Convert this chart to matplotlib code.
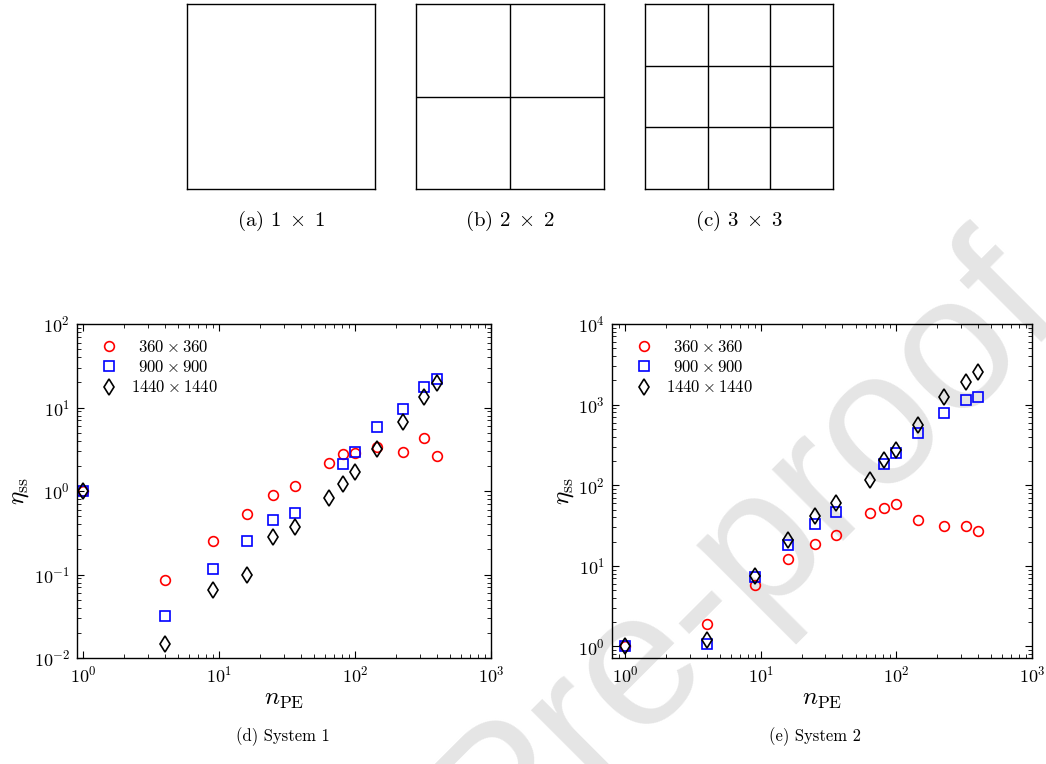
import numpy as np
import matplotlib
matplotlib.use("Agg")
import matplotlib.pyplot as plt

plt.rcParams['mathtext.fontset'] = 'cm'
plt.rcParams['font.family'] = 'serif'
plt.rcParams['font.serif'] = ['cmr10', 'DejaVu Serif']
plt.rcParams['axes.formatter.use_mathtext'] = True
plt.rcParams['axes.unicode_minus'] = False

# ---- data ----
grid_sizes = [1, 2, 3]
grid_captions = [r'(a) $1\;\times\;1$', r'(b) $2\;\times\;2$', r'(c) $3\;\times\;3$']

n_pe = [1, 4, 9, 16, 25, 36, 64, 81, 100, 144, 225, 324, 400]
series_labels = [r'$\ \,360\times360$', r'$\ \,900\times900$', r'$1440\times1440$']

sys1_360 = [1.0, 0.085, 0.254, 0.53, 0.895, 1.14, 2.17, 2.75, 2.86, 3.37, 2.96, 4.33, 2.65]
sys1_900 = [1.0, 0.032, 0.117, 0.254, 0.445, 0.545, np.nan, 2.09, 2.91, 5.92, 9.7, 17.7, 22.1]
sys1_1440 = [1.0, 0.0149, 0.065, 0.10, 0.278, 0.373, 0.83, 1.2, 1.71, 3.22, 6.73, 13.4, 19.8]

sys2_360 = [1.0, 1.88, 5.72, 12.0, 18.9, 24.4, 45.3, 51.8, 58.0, 37.1, 31.5, 31.5, 27.1]
sys2_900 = [1.0, 1.06, 7.2, 18.0, 32.8, 47.1, np.nan, 182, 252, 447, 792, 1127, 1251]
sys2_1440 = [1.0, 1.22, 7.55, 20.8, 42.0, 60.4, 115, 208, 277, 551, 1251, 1924, 2535]

panel_captions = ['(d) System 1', '(e) System 2']
watermark = 'Pre-proof'

W, H = 1046, 764
fig = plt.figure(figsize=(W / 100, H / 100), dpi=100)

def px_axes(l, t, r, b):
    return fig.add_axes([l / W, 1 - b / H, (r - l) / W, (b - t) / H])

# watermark (behind everything)
fig.text(499 / W, 1 - 870 / H, watermark, rotation=45, fontsize=138,
         color='#e5e5e5', family='Liberation Sans',
         ha='left', va='baseline', rotation_mode='anchor', zorder=-10)

# ---- top grid diagrams ----
box_lefts = [187, 416, 645]
for n, cap, l in zip(grid_sizes, grid_captions, box_lefts):
    ax = px_axes(l, 4, l + 188, 189)
    ax.set_facecolor('none')
    ax.set_xlim(0, n)
    ax.set_ylim(0, n)
    for k in range(1, n):
        ax.axvline(k, color='black', lw=1.0)
        ax.axhline(k, color='black', lw=1.0)
    ax.set_xticks([])
    ax.set_yticks([])
    for s in ax.spines.values():
        s.set_linewidth(1.0)
    fig.text((l + 94) / W, 1 - 221 / H, cap, ha='center', va='center', fontsize=15)

# ---- bottom scatter plots ----
def scatter_panel(ax, ys, xlim, ylim, leg_x):
    ax.set_facecolor('none')
    ax.set_xscale('log')
    ax.set_yscale('log')
    specs = [('o', 'red', 7.0), ('s', 'blue', 6.6), ('d', 'black', 8.0)]
    for y, (m, c, ms), lab in zip(ys, specs, series_labels):
        ax.plot(n_pe, y, linestyle='none', marker=m, markersize=ms,
                markerfacecolor='none', markeredgecolor=c, markeredgewidth=1.2,
                label=lab)
    ax.set_xlim(*xlim)
    ax.set_ylim(*ylim)
    ax.tick_params(which='both', direction='in', top=True, right=True, labelsize=13)
    ax.tick_params(which='major', length=5, width=0.8, pad=5)
    ax.tick_params(which='minor', length=2.8, width=0.6)
    ax.set_xlabel(r'$n_{\rm PE}$', fontsize=18, labelpad=2)
    ax.set_ylabel(r'$\eta_{\rm ss}$', fontsize=18, labelpad=2)
    ax.legend(loc='upper left', bbox_to_anchor=(leg_x, 0.975), borderaxespad=0,
              frameon=False, fontsize=12, handletextpad=0.72,
              labelspacing=0.25, handlelength=1.2)
    for s in ax.spines.values():
        s.set_linewidth(1.0)

ax1 = px_axes(77, 324, 491, 658)
scatter_panel(ax1, [sys1_360, sys1_900, sys1_1440], (0.9, 1000), (0.01, 100), 0.037)
ax2 = px_axes(612, 324, 1032, 658)
scatter_panel(ax2, [sys2_360, sys2_900, sys2_1440], (0.8, 1000), (0.72, 10000), 0.036)

fig.text(283 / W, 1 - 737 / H, panel_captions[0], ha='center', va='center', fontsize=12)
fig.text(815 / W, 1 - 737 / H, panel_captions[1], ha='center', va='center', fontsize=12)

fig.savefig('out.png', dpi=100)
